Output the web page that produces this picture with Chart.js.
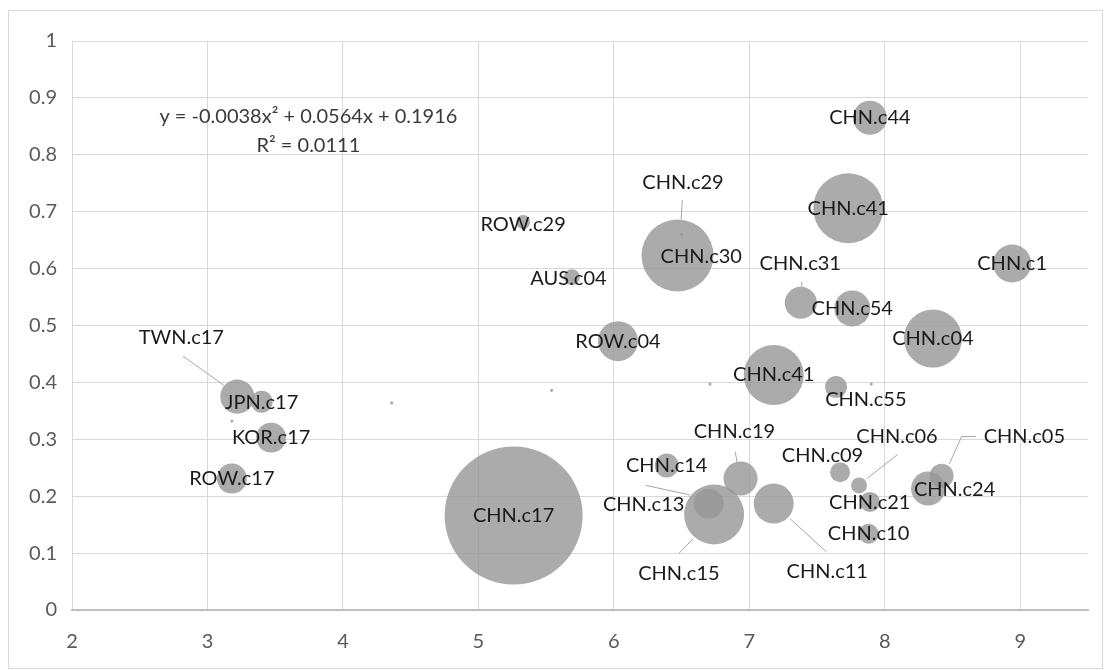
<!DOCTYPE html>
<html>
<head>
<meta charset="utf-8">
<script src="https://cdn.jsdelivr.net/npm/chart.js@4.4.0/dist/chart.umd.min.js"></script>
<style>
  html, body { margin: 0; padding: 0; background: #fff; }
  #wrap { position: relative; width: 1108px; height: 670px; }
</style>
</head>
<body>
<div id="wrap"><canvas id="chart"></canvas></div>
<script>
// bubble names, '' = unlabelled tiny point
const names = [
  'CHN.c44', 'CHN.c41', 'CHN.c30', 'CHN.c29', 'AUS.c04', 'ROW.c29', 'CHN.c1', 'CHN.c31',
  'CHN.c54', 'CHN.c04', 'ROW.c04', 'CHN.c41', 'CHN.c55', 'TWN.c17', 'JPN.c17', 'KOR.c17',
  'ROW.c17', 'CHN.c17', 'CHN.c14', 'CHN.c19', 'CHN.c13', 'CHN.c15', 'CHN.c11', 'CHN.c09',
  'CHN.c06', 'CHN.c21', 'CHN.c10', 'CHN.c24', 'CHN.c05', '', '', '', '', ''
];
const xValues = [
  7.89, 7.73, 6.47, 6.50, 5.69, 5.33, 8.94, 7.38,
  7.76, 8.355, 6.03, 7.18, 7.64, 3.22, 3.40, 3.47,
  3.18, 5.26, 6.39, 6.935, 6.70, 6.74, 7.18, 7.67,
  7.81, 7.89, 7.88, 8.32, 8.42, 4.36, 5.54, 6.71, 7.90, 3.18
];
const yValues = [
  0.865, 0.706, 0.623, 0.66, 0.585, 0.682, 0.609, 0.54,
  0.53, 0.477, 0.4725, 0.413, 0.392, 0.375, 0.366, 0.303,
  0.231, 0.166, 0.254, 0.231, 0.187, 0.168, 0.187, 0.242,
  0.219, 0.19, 0.134, 0.2135, 0.236, 0.364, 0.386, 0.397, 0.397, 0.332
];
// bubble sizes (CHN.c17 = 100), area-proportional
const sizes = [
  6.1, 25.7, 27.2, 0.05, 1.34, 1.03, 7.6, 5.4,
  6.8, 17.7, 8.4, 18.9, 2.5, 6.1, 2.5, 4.7,
  4.7, 100, 3.0, 6.1, 4.7, 18.9, 8.4, 2.1,
  1.34, 2.1, 2.1, 6.1, 3.0, 0.05, 0.05, 0.05, 0.05, 0.05
];
// label anchor in data units, null = centred on the bubble
const labelAt = [
  null, null, [6.645, 0.621], [6.51, 0.752], [5.665, 0.582], [5.33, 0.678], null, [7.376, 0.609],
  null, null, null, null, [7.86, 0.37], [2.807, 0.479], [3.40, 0.364], null,
  null, null, null, [6.89, 0.313], [6.22, 0.186], [6.48, 0.0635], [7.575, 0.068], [7.54, 0.272],
  [8.09, 0.305], [7.889, 0.188], null, [8.515, 0.212], [9.03, 0.305], null, null, null, null, null
];
const leaders = [
  [[2.82, 0.446], [3.12, 0.395]],
  [[6.505, 0.72], [6.497, 0.686]],
  [[7.387, 0.577], [7.387, 0.568]],
  [[6.896, 0.278], [6.909, 0.260]],
  [[6.236, 0.219], [6.565, 0.202]],
  [[6.482, 0.100], [6.585, 0.125]],
  [[7.298, 0.161], [7.570, 0.102]],
  [[8.093, 0.273], [7.868, 0.231]],
  [[8.477, 0.257], [8.567, 0.305], [8.671, 0.305]]
];
const xTicks = [2, 3, 4, 5, 6, 7, 8, 9];
const yTicks = [0, 0.1, 0.2, 0.3, 0.4, 0.5, 0.6, 0.7, 0.8, 0.9, 1];
const equation = ['y = -0.0038x\u00b2 + 0.0564x + 0.1916', 'R\u00b2 = 0.0111'];
const equationAt = [[3.745, 0.867], [3.745, 0.816]];

const MAX_R = 69;

Chart.defaults.font.family = 'Lato, "Open Sans", sans-serif';

const frame = {
  id: 'frame',
  beforeDraw(chart) {
    const {ctx, width, height} = chart;
    ctx.save();
    ctx.fillStyle = '#fff';
    ctx.fillRect(0, 0, width, height);
    ctx.strokeStyle = '#d9d9d9';
    ctx.lineWidth = 1;
    ctx.strokeRect(8.5, 10.5, width - 14, height - 12);
    ctx.restore();
  }
};

const bubbleLabels = {
  id: 'bubbleLabels',
  afterDatasetsDraw(chart) {
    const {ctx, scales: {x, y}} = chart;
    ctx.save();
    ctx.strokeStyle = '#a6a6a6';
    ctx.lineWidth = 1;
    leaders.forEach((path) => {
      ctx.beginPath();
      path.forEach(([vx, vy], i) => {
        const px = x.getPixelForValue(vx);
        const py = y.getPixelForValue(vy);
        if (i) {
          ctx.lineTo(px, py);
        } else {
          ctx.moveTo(px, py);
        }
      });
      ctx.stroke();
    });
    ctx.textAlign = 'center';
    ctx.textBaseline = 'middle';
    ctx.font = '20px Lato';
    ctx.fillStyle = '#1a1a1a';
    names.forEach((name, i) => {
      if (!name) {
        return;
      }
      const at = labelAt[i] || [xValues[i], yValues[i]];
      ctx.fillText(name, x.getPixelForValue(at[0]), y.getPixelForValue(at[1]));
    });
    ctx.fillStyle = '#3a3a3a';
    equation.forEach((line, i) => {
      const at = equationAt[i];
      ctx.fillText(line, x.getPixelForValue(at[0]), y.getPixelForValue(at[1]));
    });
    ctx.restore();
  }
};

new Chart(document.getElementById('chart'), {
  type: 'bubble',
  data: {
    datasets: [{
      data: names.map((name, i) => ({
        x: xValues[i],
        y: yValues[i],
        r: MAX_R * Math.sqrt(sizes[i] / 100)
      })),
      backgroundColor: 'rgba(150,150,150,0.8)',
      borderWidth: 0,
      hoverBorderWidth: 0,
      clip: false
    }]
  },
  options: {
    responsive: true,
    maintainAspectRatio: false,
    animation: false,
    events: [],
    layout: {autoPadding: false, padding: {top: 41, right: 20, bottom: 0, left: 0}},
    plugins: {
      legend: {display: false},
      tooltip: {enabled: false}
    },
    scales: {
      x: {
        type: 'linear',
        min: 2,
        max: 9.5,
        afterBuildTicks: (scale) => { scale.ticks = xTicks.map((value) => ({value})); },
        afterFit: (scale) => { scale.height = 60; },
        grid: {color: '#d9d9d9', drawTicks: false},
        border: {color: '#bfbfbf', width: 2},
        ticks: {
          padding: 20,
          color: '#595959',
          font: {size: 20},
          callback: (v) => String(v)
        }
      },
      y: {
        type: 'linear',
        min: 0,
        max: 1,
        afterBuildTicks: (scale) => { scale.ticks = yTicks.map((value) => ({value})); },
        afterFit: (scale) => { scale.width = 72; },
        grid: {color: '#d9d9d9', drawTicks: false},
        border: {display: false},
        ticks: {
          padding: 15,
          color: '#595959',
          font: {size: 20},
          callback: (v) => String(+v.toFixed(1))
        }
      }
    }
  },
  plugins: [frame, bubbleLabels]
});
</script>
</body>
</html>
